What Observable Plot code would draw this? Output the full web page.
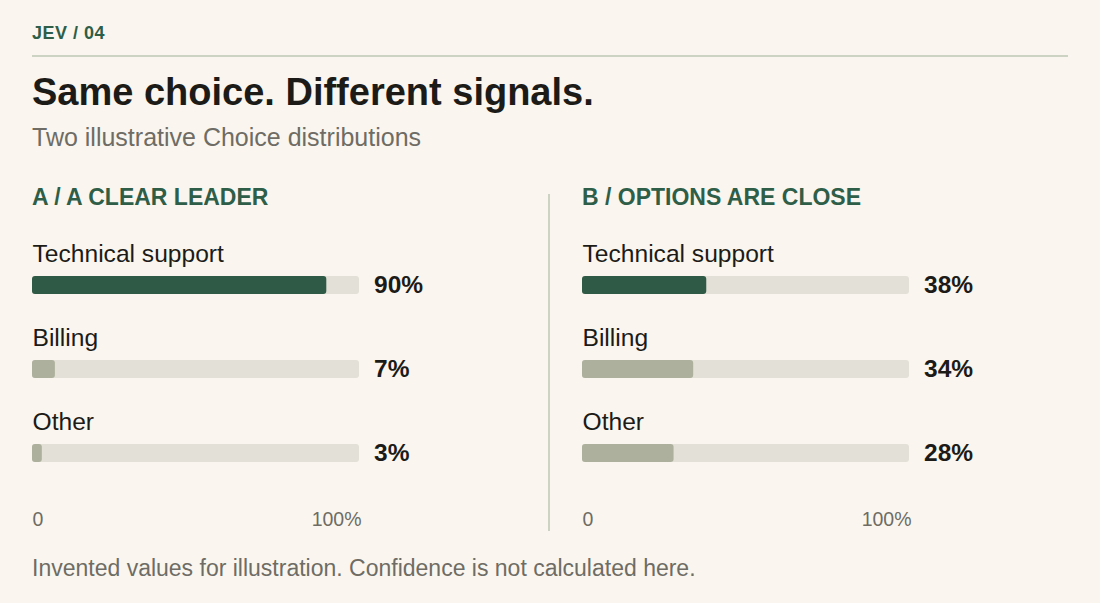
<!DOCTYPE html>
<html>
<head>
<meta charset="utf-8">
<script src="https://cdn.jsdelivr.net/npm/d3@7"></script>
<script src="https://cdn.jsdelivr.net/npm/@observablehq/plot@0.6"></script>
<style>
  html, body { margin: 0; padding: 0; background: #faf6ef; }
  body { width: 1100px; height: 603px; position: relative; overflow: hidden;
         font-family: "Liberation Sans", Arial, Helvetica, sans-serif; }
  .abs { position: absolute; white-space: nowrap; line-height: 1; }
  #kicker { left: 32px; top: 24px; font-size: 18px; font-weight: bold; color: #2f5e48; letter-spacing: 0.5px; }
  #rule { left: 32px; top: 55px; width: 1036px; height: 2px; background: #ccd3c2; }
  #title { left: 32px; top: 73px; font-size: 38px; font-weight: bold; color: #1c1b18; }
  #subtitle { left: 32px; top: 124.5px; font-size: 25px; color: #6e6c64; }
  .phead { top: 185.5px; font-size: 23px; font-weight: bold; color: #2f5e48; }
  #divider { left: 548px; top: 194px; width: 2px; height: 337px; background: #ccd3c2; }
  #footer { left: 32px; top: 556.5px; font-size: 23px; color: #6e6c64; }
  .panel { position: absolute; top: 225px; }
</style>
</head>
<body>
<div id="kicker" class="abs">JEV / 04</div>
<div id="rule" class="abs"></div>
<div id="title" class="abs">Same choice. Different signals.</div>
<div id="subtitle" class="abs">Two illustrative Choice distributions</div>
<div id="headA" class="abs phead" style="left:32px"></div>
<div id="headB" class="abs phead" style="left:582px"></div>
<div id="divider" class="abs"></div>
<div id="panelA" class="panel" style="left:32px"></div>
<div id="panelB" class="panel" style="left:582px"></div>
<div id="footer" class="abs">Invented values for illustration. Confidence is not calculated here.</div>
<script>
// ---- data ----
const categories = ["Technical support", "Billing", "Other"];
const panelTitles = ["A / A CLEAR LEADER", "B / OPTIONS ARE CLOSE"];
const valuesA = [90, 7, 3];
const valuesB = [38, 34, 28];
const tickValues = [0, 100];
const tickLabels = ["0", "100%"];

document.getElementById("headA").textContent = panelTitles[0];
document.getElementById("headB").textContent = panelTitles[1];

function panel(values) {
  const rows = categories.map((c, i) => ({category: c, value: values[i], rank: i === 0 ? "lead" : "rest"}));
  const fmt = d => tickLabels[tickValues.indexOf(d)];
  return Plot.plot({
    width: 500,
    height: 310,
    marginLeft: 0, marginRight: 0, marginTop: 0, marginBottom: 23.2,
    style: {fontFamily: "'Liberation Sans', Arial, sans-serif", background: "transparent", overflow: "visible"},
    x: {domain: [0, 100], range: [0, 327], label: null},
    y: {type: "band", domain: categories, range: [18, 270], padding: 0, axis: null},
    color: {domain: ["lead", "rest"], range: ["#2f5a46", "#adb09c"]},
    marks: [
      Plot.barX(rows, {x1: 0, x2: 100, y: "category", fill: "#e3e0d7", insetTop: 33, insetBottom: 33, rx: 3}),
      Plot.barX(rows, {x1: 0, x2: "value", y: "category", fill: "rank", insetTop: 33, insetBottom: 33, rx: 3}),
      Plot.text(rows, {x: 0, y: "category", text: "category", textAnchor: "start", dy: -31, fontSize: 24.6, fill: "#1c1b18"}),
      Plot.text(rows, {x: 100, y: "category", text: d => d.value + "%", textAnchor: "start", dx: 14.5, fontSize: 24.5, fontWeight: "bold", fill: "#1c1b18"}),
      Plot.axisX([tickValues[0]], {anchor: "bottom", tickSize: 0, tickPadding: 0, textAnchor: "start", tickFormat: fmt, fontSize: 19.5, color: "#6e6c64", label: null}),
      Plot.axisX([tickValues[1]], {anchor: "bottom", tickSize: 0, tickPadding: 0, textAnchor: "end", dx: 2, tickFormat: fmt, fontSize: 19.5, color: "#6e6c64", label: null})
    ]
  });
}

document.getElementById("panelA").appendChild(panel(valuesA));
document.getElementById("panelB").appendChild(panel(valuesB));
</script>
</body>
</html>
